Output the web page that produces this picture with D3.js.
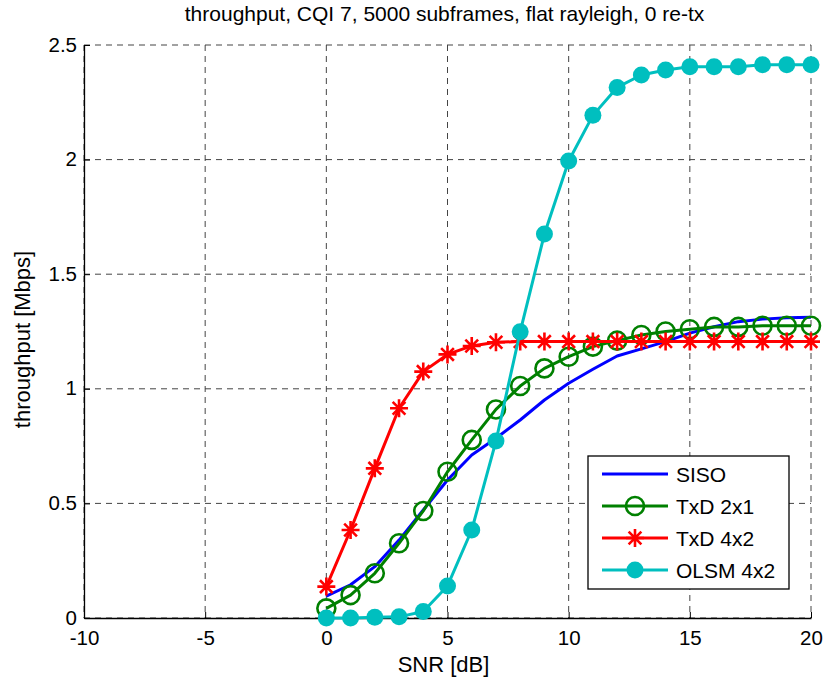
<!DOCTYPE html>
<html>
<head>
<meta charset="utf-8">
<script src="https://cdn.jsdelivr.net/npm/d3@7"></script>
<style>
  body { margin: 0; background: #fff; }
  text { font-family: "Liberation Sans", Arial, Helvetica, sans-serif; fill: #000; }
</style>
</head>
<body>
<div id="chart"></div>
<script>
// SNR in dB, one point per integer step
var snr = d3.range(0, 21);

var siso   = [0.095, 0.145, 0.224, 0.34, 0.471, 0.602, 0.711, 0.784, 0.864, 0.951, 1.024,
              1.085, 1.143, 1.174, 1.206, 1.243, 1.271, 1.293, 1.304, 1.31, 1.312];
var txd2x1 = [0.042, 0.1, 0.195, 0.326, 0.467, 0.638, 0.777, 0.91, 1.012, 1.089, 1.14,
              1.184, 1.21, 1.235, 1.25, 1.26, 1.27, 1.27, 1.275, 1.275, 1.275];
var txd4x2 = [0.137, 0.384, 0.653, 0.915, 1.075, 1.15, 1.187, 1.203, 1.206, 1.206, 1.206,
              1.206, 1.206, 1.206, 1.206, 1.206, 1.206, 1.206, 1.206, 1.206, 1.206];
var olsm   = [0.0, 0.0, 0.003, 0.005, 0.028, 0.14, 0.384, 0.772, 1.249, 1.675, 1.994,
              2.193, 2.315, 2.369, 2.391, 2.405, 2.405, 2.405, 2.414, 2.414, 2.414];

var xTicks = [-10, -5, 0, 5, 10, 15, 20];
var yTicks = [0, 0.5, 1, 1.5, 2, 2.5];

var series = [
    { name: "SISO",      values: siso,   color: "#0000ff", marker: "none" },
    { name: "TxD 2x1",   values: txd2x1, color: "#008000", marker: "circle" },
    { name: "TxD 4x2",   values: txd4x2, color: "#ff0000", marker: "star" },
    { name: "OLSM 4x2",  values: olsm,   color: "#00bfbf", marker: "dot" }
];

var width = 826, height = 681,
    margin = { top: 45, right: 15, bottom: 63, left: 84 },
    w = width - margin.left - margin.right,
    h = height - margin.top - margin.bottom,
    fs = "20.5px";

var x = d3.scaleLinear().domain([-10, 20]).range([0, w]);
var y = d3.scaleLinear().domain([0, 2.5]).range([h, 0]);

var svg = d3.select("#chart").append("svg")
    .attr("width", width).attr("height", height);

svg.append("text")
    .attr("x", margin.left + w / 2 - 3).attr("y", 21)
    .attr("text-anchor", "middle")
    .style("font-size", "21px")
    .text("throughput, CQI 7, 5000 subframes, flat rayleigh, 0 re-tx");

var g = svg.append("g")
    .attr("transform", "translate(" + margin.left + "," + margin.top + ")");

// dashed grid
g.append("g").selectAll("line").data(xTicks).join("line")
    .attr("x1", d => x(d)).attr("x2", d => x(d))
    .attr("y1", 0).attr("y2", h)
    .attr("stroke", "#444").attr("stroke-dasharray", "6,5");
g.append("g").selectAll("line").data(yTicks).join("line")
    .attr("x1", 0).attr("x2", w)
    .attr("y1", d => y(d)).attr("y2", d => y(d))
    .attr("stroke", "#444").attr("stroke-dasharray", "6,5");

// axes, ticks pointing inward
var xAxis = g.append("g")
    .attr("transform", "translate(0," + h + ")")
    .call(d3.axisBottom(x).tickValues(xTicks).tickFormat(d => String(d))
        .tickSizeInner(-6).tickSizeOuter(0).tickPadding(15));
var yAxis = g.append("g")
    .call(d3.axisLeft(y).tickValues(yTicks).tickFormat(d => String(d))
        .tickSizeInner(-6).tickSizeOuter(0).tickPadding(7));
[xAxis, yAxis].forEach(function (a) {
    a.select(".domain").attr("stroke", "#000").attr("stroke-width", 1.3);
    a.selectAll(".tick line").attr("stroke", "#000");
    a.selectAll(".tick text").style("font-size", fs)
        .style("font-family", "'Liberation Sans', Arial, sans-serif").attr("fill", "#000");
});
xAxis.selectAll(".tick text").attr("dy", "0.6em");
yAxis.selectAll(".tick text").attr("dy", "0.3em");

svg.append("text")
    .attr("x", margin.left + w / 2 - 4).attr("y", 672)
    .attr("text-anchor", "middle").style("font-size", "22px")
    .text("SNR [dB]");
svg.append("text")
    .attr("transform", "translate(30," + (margin.top + h / 2 + 8) + ") rotate(-90)")
    .attr("text-anchor", "middle").style("font-size", "22px")
    .text("throughput [Mbps]");

var line = d3.line()
    .x(function (d, i) { return x(snr[i]); })
    .y(function (d) { return y(d); });

function drawMarker(sel, s, cx, cy) {
    if (s.marker === "circle") {
        sel.append("circle").attr("cx", cx).attr("cy", cy).attr("r", 9)
            .attr("fill", "none").attr("stroke", s.color).attr("stroke-width", 2.6);
    } else if (s.marker === "dot") {
        sel.append("circle").attr("cx", cx).attr("cy", cy).attr("r", 8.5)
            .attr("fill", s.color);
    } else if (s.marker === "star") {
        var r = 9, p = "";
        [0, 45, 90, 135].forEach(function (a) {
            var t = a * Math.PI / 180, dx = r * Math.sin(t), dy = r * Math.cos(t);
            p += "M" + (cx - dx) + "," + (cy - dy) + "L" + (cx + dx) + "," + (cy + dy);
        });
        sel.append("path").attr("d", p).attr("stroke", s.color).attr("stroke-width", 2.6);
    }
}

series.forEach(function (s) {
    var sg = g.append("g");
    sg.append("path").datum(s.values)
        .attr("d", line)
        .attr("fill", "none")
        .attr("stroke", s.color)
        .attr("stroke-width", 3)
        .attr("stroke-linejoin", "round");
    s.values.forEach(function (v, i) {
        drawMarker(sg, s, x(snr[i]), y(v));
    });
});

// legend
var lg = svg.append("g").attr("transform", "translate(588,456)");
lg.append("rect").attr("width", 201).attr("height", 133)
    .attr("fill", "#fff").attr("stroke", "#000").attr("stroke-width", 1.3);
series.forEach(function (s, i) {
    var yy = 18 + i * 32;
    lg.append("line").attr("x1", 14).attr("x2", 80).attr("y1", yy).attr("y2", yy)
        .attr("stroke", s.color).attr("stroke-width", 3);
    drawMarker(lg, s, 47, yy);
    lg.append("text").attr("x", 88).attr("y", yy).attr("dy", "0.36em")
        .style("font-size", "21px").text(s.name);
});
</script>
</body>
</html>
